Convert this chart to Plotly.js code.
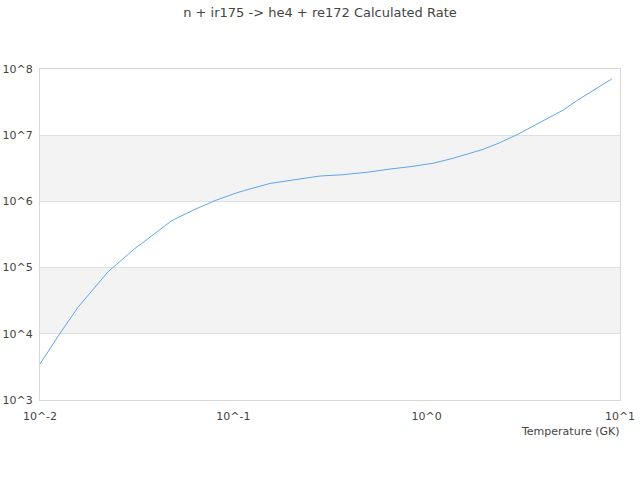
<!DOCTYPE html>
<html>
<head>
<meta charset="utf-8">
<script src="https://cdn.plot.ly/plotly-3.0.1.min.js"></script>
<style>html,body{margin:0;padding:0;background:#fff;}#chart{width:640px;height:480px;}</style>
</head>
<body>
<div id="chart"></div>
<script>
const temperatureGK = [0.01, 0.0127, 0.0158, 0.0178, 0.0225, 0.0239, 0.031, 0.0349, 0.0444, 0.048, 0.0634, 0.0804, 0.102, 0.113, 0.155, 0.204, 0.281, 0.356, 0.49, 0.646, 0.82, 1.08, 1.37, 1.96, 2.39, 2.92, 3.71, 5.09, 5.97, 9.06];
const rate = [3500, 1.02e4, 2.56e4, 3.85e4, 8.67e4, 1.01e5, 1.95e5, 2.52e5, 4.41e5, 5.12e5, 7.6e5, 1.03e6, 1.32e6, 1.45e6, 1.87e6, 2.10e6, 2.42e6, 2.51e6, 2.75e6, 3.08e6, 3.34e6, 3.77e6, 4.48e6, 6.12e6, 7.71e6, 1.01e7, 1.48e7, 2.40e7, 3.32e7, 7.06e7];
const xTickVals = [0.01, 0.1, 1, 10];
const xTickText = ['10^-2', '10^-1', '10^0', '10^1'];
const yTickVals = [1e3, 1e4, 1e5, 1e6, 1e7, 1e8];
const yTickText = ['10^3', '10^4', '10^5', '10^6', '10^7', '10^8'];
const bandLows = [1e4, 1e6];
const bandHighs = [1e5, 1e7];

const font = {family: 'DejaVu Sans, sans-serif', size: 11, color: '#444'};
const shapes = bandLows.map((lo, i) => ({
  type: 'rect', xref: 'paper', yref: 'y', layer: 'below',
  x0: 0, x1: 1, y0: lo, y1: bandHighs[i],
  fillcolor: '#f3f3f3', line: {width: 0}
}));

Plotly.newPlot('chart', [{
  x: temperatureGK, y: rate, type: 'scatter', mode: 'lines',
  line: {color: '#5ea6f0', width: 1}, hoverinfo: 'skip'
}], {
  width: 640, height: 480,
  margin: {l: 40, r: 20, t: 69, b: 80},
  paper_bgcolor: '#fff', plot_bgcolor: '#fff',
  font: font,
  title: {text: 'n + ir175 -> he4 + re172 Calculated Rate', font: {family: 'DejaVu Sans, sans-serif', size: 13, color: '#444'}, x: 0.5, xanchor: 'center', y: 0.975, yanchor: 'middle'},
  showlegend: false,
  shapes: shapes,
  xaxis: {
    type: 'log', range: [-2, 1], tickvals: xTickVals, ticktext: xTickText,
    showgrid: false, showline: true, linecolor: '#d8d8d8', mirror: true,
    ticks: '', ticklabelstandoff: 6, zeroline: false, tickfont: font
  },
  yaxis: {
    type: 'log', range: [3, 8], tickvals: yTickVals, ticktext: yTickText,
    showgrid: true, gridcolor: '#e0e0e0', showline: true, linecolor: '#d8d8d8', mirror: true,
    ticks: '', ticklabelstandoff: 4, zeroline: false, tickfont: font
  },
  annotations: [{
    text: 'Temperature (GK)', xref: 'paper', yref: 'paper', x: 1, y: 0,
    xanchor: 'right', yanchor: 'top', yshift: -23, xshift: 2, showarrow: false,
    font: font
  }]
}, {displayModeBar: false, staticPlot: true});
</script>
</body>
</html>
